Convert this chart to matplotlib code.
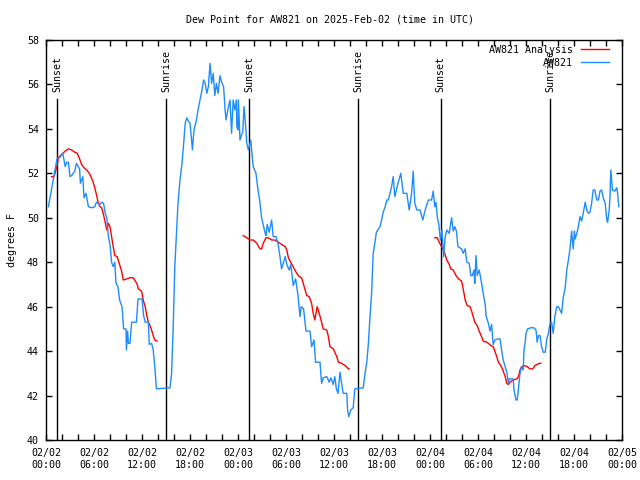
import numpy as np
import matplotlib
matplotlib.use('Agg')
import matplotlib.pyplot as plt
import matplotlib.dates as mdates
from datetime import datetime, timedelta

plt.rcParams['font.family'] = ['DejaVu Sans Mono']
plt.rcParams['font.size'] = 7.2

start = datetime(2025, 2, 2)

# station observations (hours since 02/02 00:00 UTC, deg F)
obs_hours = [0.3, 1.4, 1.7, 2.1, 2.4, 2.6, 2.8, 3.0, 3.2, 3.6, 3.8, 4.2, 4.3, 4.6, 4.75, 5.0, 5.3, 5.7,
             6.1, 6.3, 6.7, 7.0, 7.2, 7.4, 7.6, 7.8, 8.0, 8.2, 8.4, 8.6, 8.75, 9.0, 9.2, 9.5, 9.7, 10.0,
             10.05, 10.2, 10.3, 10.5, 10.7, 11.3, 11.5, 12.0, 12.2, 12.4, 12.8, 12.9, 13.2, 13.4, 13.6,
             13.8, 15.5, 15.7, 15.9, 16.1, 16.25, 16.4, 16.5, 16.75, 17.0, 17.2, 17.4, 17.6, 17.8, 18.0,
             18.2, 18.3, 18.5, 18.8, 19.0, 19.25, 19.5, 19.7, 19.9, 20.1, 20.3, 20.5, 20.7, 20.9, 21.1,
             21.3, 21.5, 21.75, 21.95, 22.2, 22.4, 22.5, 22.8, 23.0, 23.2, 23.4, 23.6, 23.8, 23.85, 24.0,
             24.05, 24.25, 24.6, 24.75, 24.9, 25.1, 25.3, 25.6, 25.7, 25.9, 26.25, 26.5, 26.7, 26.75,
             26.95, 27.2, 27.4, 27.5, 27.65, 27.9, 28.2, 28.4, 28.75, 29.0, 29.25, 29.45, 29.65, 29.9,
             30.1, 30.4, 30.6, 30.9, 31.2, 31.5, 31.75, 31.9, 32.2, 32.5, 33.0, 33.2, 33.5, 33.7, 34.25,
             34.45, 34.65, 35.1, 35.4, 35.6, 35.9, 36.1, 36.3, 36.5, 36.75, 36.95, 37.15, 37.6, 37.7,
             37.85, 38.1, 38.4, 38.6, 39.65, 39.9, 40.1, 40.3, 40.5, 40.7, 40.9, 41.1, 41.3, 41.75, 41.95,
             42.15, 42.4, 42.6, 42.8, 43.2, 43.4, 43.6, 44.0, 44.35, 44.65, 45.1, 45.4, 45.7, 45.9, 46.1,
             46.35, 46.75, 47.1, 47.4, 47.8, 48.2, 48.4, 48.6, 48.75, 48.9, 49.1, 49.3, 49.5, 49.7, 49.9,
             50.1, 50.4, 50.7, 50.9, 51.1, 51.3, 51.5, 51.95, 52.15, 52.4, 52.6, 52.9, 53.1, 53.3, 53.5,
             53.6, 53.75, 53.9, 54.15, 54.45, 54.65, 54.9, 55.0, 55.3, 55.5, 55.7, 55.9, 56.1, 56.5,
             56.75, 56.95, 57.15, 57.4, 57.6, 57.8, 57.9, 58.4, 58.5, 58.75, 58.9, 59.0, 59.25, 59.45,
             59.65, 59.75, 59.9, 60.0, 60.2, 60.6, 61.0, 61.25, 61.4, 61.55, 61.75, 61.95, 62.15, 62.4,
             62.6, 62.8, 63.0, 63.2, 63.4, 63.6, 63.85, 64.05, 64.25, 64.45, 64.65, 64.9, 65.1, 65.3,
             65.5, 65.7, 65.9, 66.05, 66.15, 66.35, 66.55, 66.75, 66.95, 67.15, 67.4, 67.6, 67.8, 68.0,
             68.2, 68.4, 68.6, 68.85, 69.05, 69.25, 69.45, 69.65, 69.9, 70.1, 70.2, 70.4, 70.5, 70.6,
             70.8, 71.1, 71.35, 71.45, 71.6]
obs_dewpt = [50.5, 52.7, 52.7, 52.9, 52.3, 52.5, 52.5, 51.85, 51.9, 52.1, 52.45, 52.2, 51.55, 51.85, 50.9,
             51.1, 50.5, 50.45, 50.5, 50.7, 50.6, 50.7, 50.65, 50.2, 50.0, 49.15, 48.8, 48.0, 47.8, 48.0,
             47.05, 46.9, 46.3, 46.0, 45.0, 45.0, 44.05, 44.9, 44.35, 44.35, 45.3, 45.3, 46.35, 46.35,
             45.6, 45.3, 45.3, 44.3, 44.35, 44.05, 43.3, 42.3, 42.35, 43.0, 45.1, 47.8, 48.85, 49.9,
             50.65, 51.7, 52.45, 53.3, 54.25, 54.5, 54.35, 54.25, 53.5, 53.05, 53.95, 54.4, 54.85, 55.3,
             55.75, 56.2, 56.05, 55.6, 55.9, 56.95, 56.05, 56.5, 55.5, 56.05, 55.6, 56.4, 56.1, 55.9,
             54.8, 54.4, 55.0, 55.3, 53.8, 55.3, 54.85, 55.3, 54.1, 53.95, 55.3, 53.5, 53.9, 55.0, 54.4,
             53.35, 53.05, 53.5, 53.05, 52.3, 52.0, 51.25, 50.8, 50.65, 50.0, 49.6, 49.3, 49.2, 49.7,
             49.35, 49.9, 49.15, 49.15, 48.85, 48.25, 47.7, 47.95, 48.25, 47.9, 47.65, 47.9, 46.95,
             47.25, 46.5, 45.55, 46.0, 45.9, 44.9, 44.9, 44.2, 44.5, 43.5, 43.5, 42.55, 42.8, 42.85,
             42.6, 42.8, 42.5, 42.85, 42.3, 42.1, 43.05, 42.55, 42.1, 42.1, 41.35, 41.05, 41.35, 41.45,
             42.3, 42.35, 43.05, 43.5, 44.35, 45.55, 46.6, 48.4, 48.85, 49.35, 49.6, 49.9, 50.25, 50.5,
             50.8, 50.8, 51.4, 51.85, 50.95, 51.55, 52.0, 51.1, 51.1, 50.35, 51.1, 52.1, 50.65, 50.35,
             50.35, 49.9, 50.35, 50.8, 50.8, 51.2, 50.5, 50.7, 50.05, 49.7, 49.0, 49.45, 48.25, 49.15,
             49.45, 49.3, 50.0, 49.4, 49.6, 49.4, 48.7, 48.6, 48.4, 48.6, 48.0, 47.95, 47.4, 47.4, 47.65,
             47.05, 48.3, 47.4, 47.65, 47.05, 46.6, 46.1, 45.6, 45.25, 44.9, 45.2, 44.3, 44.5, 44.55,
             44.55, 44.05, 43.6, 43.3, 43.05, 42.55, 42.75, 42.75, 42.25, 41.8, 41.8, 42.1, 43.0, 43.3,
             43.15, 44.05, 44.4, 44.8, 45.0, 45.05, 45.05, 44.95, 44.4, 44.7, 44.7, 44.2, 43.95, 43.95,
             44.55, 44.8, 45.25, 45.3, 44.8, 45.55, 46.0, 46.0, 45.85, 45.7, 46.4, 46.85, 47.65, 48.1,
             48.6, 49.4, 48.6, 49.4, 49.05, 49.3, 49.6, 50.05, 49.85, 50.2, 50.7, 50.35, 50.2, 50.25,
             50.65, 51.25, 51.25, 50.8, 50.8, 51.2, 51.25, 50.9, 50.65, 49.9, 49.8, 50.35, 50.95, 52.15,
             51.25, 51.2, 51.35, 51.1, 50.5]

# analysis (three runs, NaN marks the gaps)
ana_hours = [0.7, 1.0, 1.35, 1.55, 1.95, 2.4, 2.8, 3.2, 3.6, 3.9, 4.15, 4.45, 4.75, 5.1, 5.5, 5.85, 6.1,
             6.3, 6.55, 6.75, 6.95, 7.15, 7.4, 7.6, 7.8, 8.0, 8.2, 8.4, 8.6, 8.9, 9.15, 9.45, 9.65, 10.1,
             10.5, 10.9, 11.35, 11.55, 11.95, 12.15, 12.4, 12.6, 12.8, 13.0, 13.2, 13.4, 13.6, 13.9,
             np.nan,
             24.65, 25.1, 25.5, 25.9, 26.35, 26.75, 26.95, 27.15, 27.5, 27.8, 28.2, 28.6, 29.05, 29.45,
             29.9, 30.1, 30.3, 30.5, 30.9, 31.1, 31.35, 31.65, 31.95, 32.15, 32.4, 32.6, 32.9, 33.2, 33.4,
             33.6, 33.75, 33.9, 34.15, 34.45, 34.65, 35.1, 35.3, 35.5, 35.9, 36.1, 36.35, 36.55, 36.95,
             37.4, 37.8, 37.9,
             np.nan,
             48.6, 48.9, 49.15, 49.45, 49.75, 50.1, 50.4, 50.6, 50.9, 51.25, 51.55, 51.95, 52.15, 52.4,
             52.65, 53.0, 53.2, 53.4, 53.6, 53.9, 54.15, 54.45, 54.65, 55.1, 55.3, 55.6, 55.9, 56.1,
             56.35, 56.55, 56.85, 57.1, 57.4, 57.6, 57.8, 58.0, 58.4, 58.85, 59.05, 59.25, 59.45, 59.75,
             60.15, 60.5, 60.85, 61.1, 61.4, 61.65, 61.85]
ana_dewpt = [51.85, 51.85, 52.3, 52.7, 52.85, 53.0, 53.1, 53.05, 52.95, 52.9, 52.7, 52.4, 52.25, 52.15,
             51.95, 51.65, 51.35, 51.05, 50.65, 50.5, 50.45, 50.2, 49.8, 49.45, 49.75, 49.6, 49.15, 48.7,
             48.3, 48.25, 47.95, 47.6, 47.2, 47.25, 47.3, 47.3, 47.05, 46.8, 46.7, 46.3, 46.0, 45.6,
             45.3, 45.15, 44.95, 44.7, 44.5, 44.45,
             np.nan,
             49.2, 49.1, 49.0, 49.0, 48.85, 48.6, 48.6, 48.85, 49.1, 49.1, 49.0, 49.0, 48.9, 48.8, 48.7,
             48.55, 48.2, 48.05, 47.8, 47.65, 47.5, 47.35, 47.3, 47.05, 46.75, 46.5, 46.45, 46.15, 45.7,
             45.4, 45.7, 46.0, 45.7, 45.3, 45.0, 44.95, 44.65, 44.2, 44.1, 43.95, 43.75, 43.5, 43.45,
             43.35, 43.2, 43.2,
             np.nan,
             49.1, 49.1, 48.9, 48.7, 48.5, 48.1, 47.9, 47.7, 47.65, 47.4, 47.25, 47.15, 46.8, 46.3, 46.05,
             46.0, 45.8, 45.55, 45.3, 45.15, 44.9, 44.65, 44.45, 44.4, 44.35, 44.25, 44.2, 44.0, 43.75,
             43.5, 43.35, 43.15, 42.85, 42.55, 42.5, 42.6, 42.7, 42.75, 42.85, 43.15, 43.3, 43.35, 43.3,
             43.2, 43.2, 43.35, 43.4, 43.45, 43.45]

sun_hours = [1.42, 15.04, 25.4, 39.04, 49.33, 63.0]
sun_labels = ['Sunset', 'Sunrise', 'Sunset', 'Sunrise', 'Sunset', 'Sunrise']

t0 = mdates.date2num(start)
obs_x = t0 + np.array(obs_hours) / 24
ana_x = t0 + np.array(ana_hours) / 24
sun_x = t0 + np.array(sun_hours) / 24

fig = plt.figure(figsize=(6.4, 4.8), dpi=100)
ax = fig.add_axes([46 / 640, 40 / 480, 576 / 640, 400 / 480])

ax.plot(ana_x, ana_dewpt, color='#ff0000', lw=1, label='AW821 Analysis', zorder=3)
ax.plot(obs_x, obs_dewpt, color='#1e8cff', lw=1, label='AW821', zorder=3)

ymin, ymax = 40, 58
for x, lab in zip(sun_x, sun_labels):
    ax.axvline(x, ymin=0, ymax=(55.35 - ymin) / (ymax - ymin), color='black', lw=1, zorder=2)
    ax.text(x, 55.65, lab, rotation=90, ha='center', va='bottom', zorder=4)

ax.set_xlim(t0, t0 + 3)
ax.set_ylim(ymin, ymax)
ax.set_yticks(np.arange(40, 59, 2))
ax.xaxis.set_major_locator(mdates.HourLocator(byhour=[0, 6, 12, 18]))
ax.xaxis.set_minor_locator(mdates.HourLocator(byhour=range(0, 24, 2)))
ax.xaxis.set_major_formatter(mdates.DateFormatter('%m/%d\n%H:%M'))
ax.tick_params(which='both', direction='in', length=4, width=1, top=True, right=True)
ax.tick_params(axis='x', pad=6)
ax.tick_params(axis='y', pad=5)
for s in ax.spines.values():
    s.set_linewidth(1)

ax.legend(loc='upper right', bbox_to_anchor=(1 - 5 / 576, 1 + 3 / 400), frameon=False,
          markerfirst=False, handlelength=2.8, handletextpad=0.8, labelspacing=0.3,
          borderaxespad=0.6, borderpad=0.2)

fig.text(330 / 640, 1 - 19 / 480, 'Dew Point for AW821 on 2025-Feb-02 (time in UTC)',
         ha='center', va='center')
fig.text(11.7 / 640, 0.5, 'degrees F', rotation=90, ha='center', va='center')

fig.savefig('out.png', dpi=100)
